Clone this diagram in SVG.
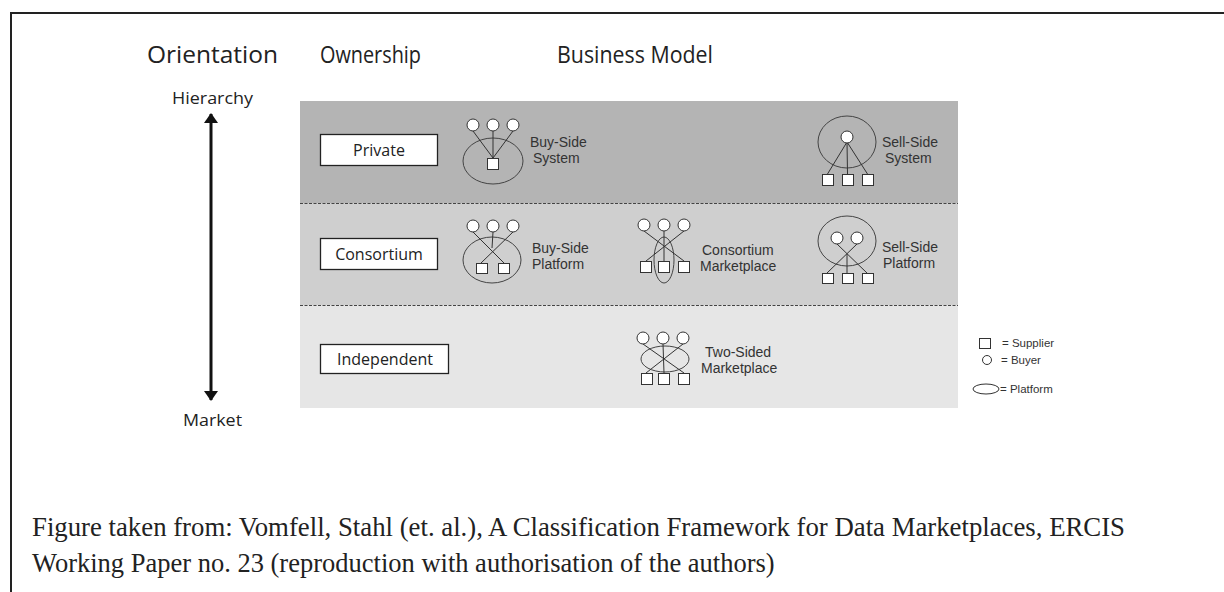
<svg xmlns="http://www.w3.org/2000/svg" width="1224" height="592" viewBox="0 0 1224 592">
<defs>
<style>
.frame{fill:none;stroke:#222;stroke-width:2}
.hd{font-family:"Open Sans","DejaVu Sans",sans-serif;font-size:24px;fill:#222}
.ax{font-family:"Open Sans","DejaVu Sans",sans-serif;font-size:16px;fill:#222}
.box{fill:#fff;stroke:#222;stroke-width:1.3}
.bt{font-family:"Open Sans","DejaVu Sans",sans-serif;font-size:16px;fill:#222;text-anchor:middle}
.lb{font-family:"Liberation Sans",Arial,sans-serif;font-size:14px;fill:#333}
.lg{font-family:"Liberation Sans",Arial,sans-serif;font-size:11.5px;fill:#333}
.ic{fill:#fff;stroke:#333;stroke-width:1}
.el{fill:none;stroke:#444;stroke-width:1}
.ln{stroke:#333;stroke-width:1;fill:none}
.dash{stroke:#444;stroke-width:1;stroke-dasharray:3 1.5}
.cap{font-family:"Liberation Serif","Times New Roman",serif;font-size:26.5px;fill:#222}
</style>
<marker id="ah" viewBox="0 0 10 14" refX="9" refY="7" markerWidth="10" markerHeight="14" markerUnits="userSpaceOnUse" orient="auto">
<path d="M0,0 L10,7 L0,14 Z" fill="#111"/>
</marker>
</defs>
<rect width="1224" height="592" fill="#fff"/>
<path class="frame" d="M11,600 L11,13 L1230,13"/>

<g id="headings">
<text class="hd" x="147" y="63" textLength="131" lengthAdjust="spacingAndGlyphs">Orientation</text>
<text class="hd" x="320" y="63" textLength="101" lengthAdjust="spacingAndGlyphs">Ownership</text>
<text class="hd" x="557" y="63" textLength="156" lengthAdjust="spacingAndGlyphs">Business Model</text>
</g>

<g id="bands">
<rect x="300" y="101" width="658" height="102" fill="#b4b4b4"/>
<rect x="300" y="203" width="658" height="102" fill="#cfcfcf"/>
<rect x="300" y="305" width="658" height="103" fill="#e6e6e6"/>
<line class="dash" x1="300" y1="203.5" x2="958" y2="203.5"/>
<line class="dash" x1="300" y1="305.5" x2="958" y2="305.5"/>
</g>

<g id="hierarchy"><text class="ax" x="172" y="104" textLength="81" lengthAdjust="spacingAndGlyphs">Hierarchy</text></g>
<g id="market"><text class="ax" x="183" y="426" textLength="59" lengthAdjust="spacingAndGlyphs">Market</text></g>

<g id="connectors">
<line x1="211" y1="128" x2="211" y2="114" stroke="#111" stroke-width="3" marker-end="url(#ah)"/>
<line x1="211" y1="128" x2="211" y2="384" stroke="#111" stroke-width="3"/>
<line x1="211" y1="384" x2="211" y2="400" stroke="#111" stroke-width="3" marker-end="url(#ah)"/>
</g>

<g id="private">
<rect class="box" x="320.5" y="134.5" width="117" height="31"/>
<text class="bt" x="379" y="156">Private</text>
</g>
<g id="consortium">
<rect class="box" x="320.5" y="238.5" width="117" height="31"/>
<text class="bt" x="379" y="260">Consortium</text>
</g>
<g id="independent">
<rect class="box" x="320.5" y="344.5" width="128" height="29"/>
<text class="bt" x="385" y="365">Independent</text>
</g>

<g id="buy-side-system">
<ellipse class="el" cx="493" cy="161" rx="30" ry="23"/>
<path class="ln" d="M473,131 L493,158 M493,131 L493,158 M513,131 L493,158"/>
<circle class="ic" cx="473" cy="125" r="6"/>
<circle class="ic" cx="493" cy="125" r="6"/>
<circle class="ic" cx="513" cy="125" r="6"/>
<rect class="ic" x="487.5" y="158.5" width="11" height="11"/>
<text class="lb" x="530" y="147">Buy-Side</text>
<text class="lb" x="533" y="163">System</text>
</g>

<g id="sell-side-system">
<ellipse class="el" cx="847" cy="142" rx="29" ry="26"/>
<path class="ln" d="M847,142 L827.5,174 M847,142 L847.5,174 M847,142 L867.5,174"/>
<circle class="ic" cx="847" cy="137" r="6"/>
<rect class="ic" x="822.5" y="174.5" width="11" height="11"/>
<rect class="ic" x="842.5" y="174.5" width="11" height="11"/>
<rect class="ic" x="862.5" y="174.5" width="11" height="11"/>
<text class="lb" x="882" y="147">Sell-Side</text>
<text class="lb" x="885" y="163">System</text>
</g>

<g id="buy-side-platform">
<ellipse class="el" cx="492" cy="260" rx="29" ry="23"/>
<path class="ln" d="M473,232 L504,263 M513,232 L481,263 M493,232 L492,248"/>
<circle class="ic" cx="473" cy="226" r="6"/>
<circle class="ic" cx="493" cy="226" r="6"/>
<circle class="ic" cx="513" cy="226" r="6"/>
<rect class="ic" x="476.5" y="263.5" width="11" height="10"/>
<rect class="ic" x="498.5" y="263.5" width="11" height="10"/>
<text class="lb" x="532" y="253">Buy-Side</text>
<text class="lb" x="532" y="269">Platform</text>
</g>

<g id="consortium-marketplace">
<ellipse class="el" cx="664" cy="260" rx="10" ry="23"/>
<path class="ln" d="M644,231 L684,261 M684,231 L646,261 M664,231 L664,261"/>
<circle class="ic" cx="644" cy="225" r="6"/>
<circle class="ic" cx="664" cy="225" r="6"/>
<circle class="ic" cx="684" cy="225" r="6"/>
<rect class="ic" x="640.5" y="261.5" width="11" height="11"/>
<rect class="ic" x="658.5" y="261.5" width="11" height="11"/>
<rect class="ic" x="678.5" y="261.5" width="11" height="11"/>
<text class="lb" x="702" y="255">Consortium</text>
<text class="lb" x="700" y="271">Marketplace</text>
</g>

<g id="sell-side-platform">
<ellipse class="el" cx="847" cy="241" rx="29" ry="25"/>
<path class="ln" d="M837,244 L867,273 M857,244 L827,273 M847,254 L847,273"/>
<circle class="ic" cx="837" cy="238" r="6"/>
<circle class="ic" cx="857" cy="238" r="6"/>
<rect class="ic" x="822.5" y="273.5" width="11" height="10"/>
<rect class="ic" x="842.5" y="273.5" width="11" height="10"/>
<rect class="ic" x="862.5" y="273.5" width="11" height="10"/>
<text class="lb" x="882" y="252">Sell-Side</text>
<text class="lb" x="883" y="268">Platform</text>
</g>

<g id="two-sided-marketplace">
<ellipse class="el" cx="665" cy="359" rx="24" ry="13"/>
<path class="ln" d="M643,344 L684,373 M683,344 L646,373 M663,344 L664,373"/>
<circle class="ic" cx="643" cy="338" r="6"/>
<circle class="ic" cx="663" cy="338" r="6"/>
<circle class="ic" cx="683" cy="338" r="6"/>
<rect class="ic" x="641.5" y="373.5" width="11" height="11"/>
<rect class="ic" x="658.5" y="373.5" width="11" height="11"/>
<rect class="ic" x="678.5" y="373.5" width="11" height="11"/>
<text class="lb" x="705" y="357">Two-Sided</text>
<text class="lb" x="701" y="373">Marketplace</text>
</g>

<g id="legend">
<rect class="ic" x="979.5" y="338.5" width="11" height="10"/>
<text class="lg" x="1002" y="347">= Supplier</text>
<circle class="ic" cx="987" cy="360" r="4.5"/>
<text class="lg" x="1001" y="364">= Buyer</text>
<ellipse class="ic" cx="986" cy="389" rx="13" ry="5"/>
<text class="lg" x="1000" y="393">= Platform</text>
</g>

<g id="caption">
<text class="cap" x="32" y="536" textLength="1093" lengthAdjust="spacingAndGlyphs">Figure taken from: Vomfell, Stahl (et. al.), A Classification Framework for Data Marketplaces, ERCIS</text>
<text class="cap" x="32" y="572">Working Paper no. 23 (reproduction with authorisation of the authors)</text>
</g>
</svg>
